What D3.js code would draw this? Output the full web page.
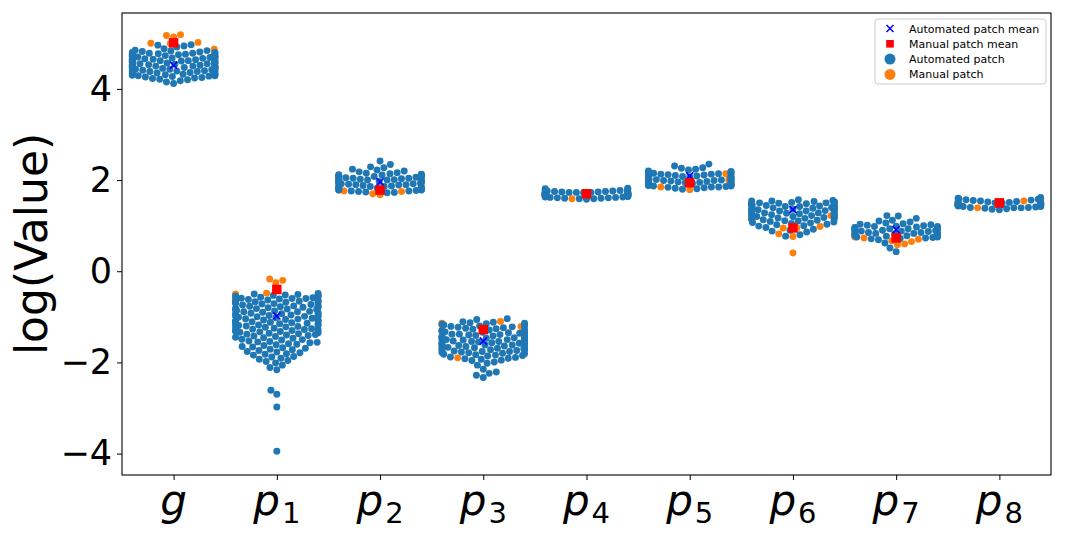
<!DOCTYPE html>
<html>
<head>
<meta charset="utf-8">
<script src="https://cdn.jsdelivr.net/npm/d3@7/dist/d3.min.js"></script>
<style>
  body { margin: 0; background: #fff; }
  text { font-family: "DejaVu Sans", sans-serif; }
</style>
</head>
<body>
<script>
// categories and their tick labels (letter + subscript)
var categories = ["g", "p1", "p2", "p3", "p4", "p5", "p6", "p7", "p8"];
var tickBase = ["g", "p", "p", "p", "p", "p", "p", "p", "p"];
var tickSub = ["", "1", "2", "3", "4", "5", "6", "7", "8"];
var yTicks = [-4, -2, 0, 2, 4];

// automated patch values
var gAuto = [4.12, 4.15, 4.18, 4.20,
  4.21, 4.23, 4.24, 4.25, 4.26, 4.27, 4.28, 4.29, 4.29,
  4.30, 4.31, 4.31, 4.32, 4.33, 4.33, 4.34, 4.35, 4.35, 4.36, 4.37, 4.37, 4.38, 4.38, 4.39, 4.39,
  4.40, 4.40, 4.41, 4.42, 4.42, 4.43, 4.43, 4.44, 4.44, 4.45, 4.46, 4.46, 4.47, 4.47, 4.48, 4.48, 4.49, 4.49,
  4.50, 4.50, 4.51, 4.52, 4.52, 4.53, 4.53, 4.54, 4.55, 4.55, 4.56, 4.56, 4.57, 4.58, 4.58, 4.59, 4.59, 4.60,
  4.60, 4.61, 4.62, 4.62, 4.63, 4.63, 4.64, 4.65, 4.65, 4.66, 4.66, 4.67, 4.68, 4.68, 4.69, 4.69, 4.70, 4.70,
  4.71, 4.72, 4.72, 4.73, 4.74, 4.74, 4.75, 4.76, 4.76, 4.77, 4.78, 4.78, 4.79, 4.79, 4.80, 4.80,
  4.81, 4.82, 4.83, 4.84, 4.85,
  4.88, 4.92, 4.94, 4.96, 4.97];
var p1Auto = [-3.95, -2.98, -2.70, -2.61,
  -2.16, -2.11, -2.06, -2.01, -1.98, -1.96,
  -1.93, -1.91, -1.88, -1.87, -1.84, -1.82, -1.81, -1.79, -1.77, -1.76,
  -1.74, -1.72, -1.71, -1.69, -1.68, -1.66, -1.65, -1.63, -1.61, -1.60, -1.59, -1.57, -1.56, -1.55,
  -1.54, -1.53, -1.51, -1.50, -1.49, -1.47, -1.46, -1.45, -1.43, -1.42, -1.41, -1.40, -1.39, -1.38, -1.37, -1.36,
  -1.35, -1.34, -1.33, -1.32, -1.31, -1.31, -1.30, -1.29, -1.28, -1.27,
  -1.26, -1.25, -1.24, -1.23, -1.22, -1.21, -1.20, -1.19, -1.19, -1.18,
  -1.17, -1.16, -1.15, -1.14, -1.13, -1.12, -1.11, -1.10, -1.09, -1.09,
  -1.08, -1.07, -1.06, -1.05, -1.04, -1.03, -1.02, -1.01, -1.00, -0.99,
  -0.99, -0.98, -0.97, -0.96, -0.95, -0.94, -0.93, -0.92, -0.91, -0.90,
  -0.89, -0.89, -0.88, -0.87, -0.86, -0.85, -0.84, -0.83, -0.82, -0.81,
  -0.80, -0.79, -0.79, -0.78, -0.77, -0.76, -0.75, -0.74, -0.73, -0.72,
  -0.71, -0.70, -0.69, -0.69, -0.68, -0.67, -0.66, -0.65, -0.64, -0.63,
  -0.62, -0.61, -0.60, -0.60, -0.59, -0.58, -0.57, -0.56,
  -0.55, -0.54, -0.53, -0.53, -0.52, -0.51, -0.50, -0.49];
var p2Auto = [1.72, 1.73, 1.74, 1.75, 1.76, 1.76, 1.77, 1.78, 1.78, 1.79,
  1.80, 1.80, 1.81, 1.82, 1.82, 1.83, 1.84, 1.84, 1.85, 1.86,
  1.86, 1.87, 1.88, 1.88, 1.89, 1.90, 1.90, 1.91, 1.92, 1.92,
  1.93, 1.94, 1.94, 1.95, 1.96, 1.96, 1.97, 1.98, 1.98, 1.99,
  2.00, 2.00, 2.01, 2.02, 2.02, 2.03, 2.04, 2.04, 2.05, 2.06,
  2.06, 2.07, 2.08, 2.08, 2.09, 2.10, 2.10, 2.11, 2.12, 2.12,
  2.13, 2.14, 2.15, 2.16, 2.18, 2.20, 2.22, 2.24, 2.27, 2.29,
  2.34, 2.42];
var p3Auto = [-2.33, -2.28, -2.24, -2.21, -2.15,
  -2.06, -2.02, -1.99,
  -1.96, -1.95, -1.93, -1.92, -1.91, -1.89, -1.88,
  -1.86, -1.85, -1.84, -1.83, -1.82, -1.81, -1.80, -1.79, -1.78,
  -1.77, -1.76, -1.76, -1.75, -1.74, -1.73, -1.73, -1.72, -1.71, -1.70,
  -1.70, -1.69, -1.68, -1.67, -1.66, -1.66, -1.65, -1.64, -1.63, -1.62,
  -1.62, -1.61, -1.60, -1.59, -1.58, -1.58, -1.57, -1.56, -1.55, -1.54,
  -1.54, -1.53, -1.52, -1.51, -1.50, -1.50, -1.49, -1.48, -1.47, -1.46,
  -1.46, -1.45, -1.44, -1.43, -1.42, -1.42, -1.41, -1.40, -1.39, -1.38,
  -1.38, -1.37, -1.36, -1.35, -1.34, -1.33, -1.32, -1.31, -1.30, -1.29,
  -1.28, -1.27, -1.26, -1.25, -1.24, -1.23, -1.22, -1.21, -1.20, -1.19,
  -1.18, -1.17, -1.16, -1.15, -1.14, -1.13,
  -1.12, -1.11, -1.06, -1.04];
var p4Auto = [1.58, 1.59, 1.59, 1.60, 1.60, 1.61, 1.61, 1.62, 1.62, 1.63,
  1.63, 1.64, 1.64, 1.65, 1.65, 1.65, 1.66, 1.66, 1.67, 1.67,
  1.67, 1.68, 1.68, 1.68, 1.69, 1.69, 1.69, 1.70, 1.70, 1.70,
  1.71, 1.71, 1.71, 1.72, 1.72, 1.72, 1.73, 1.73, 1.73, 1.74,
  1.74, 1.74, 1.75, 1.75, 1.76, 1.76, 1.77, 1.78, 1.79, 1.80,
  1.81, 1.82];
var p5Auto = [1.80, 1.81, 1.82, 1.83, 1.84, 1.85, 1.85, 1.86, 1.87, 1.87,
  1.88, 1.89, 1.89, 1.90, 1.91, 1.91, 1.92, 1.93, 1.93, 1.94,
  1.95, 1.95, 1.96, 1.97, 1.97, 1.98, 1.99, 1.99, 2.00, 2.01,
  2.01, 2.02, 2.03, 2.03, 2.04, 2.05, 2.05, 2.06, 2.07, 2.07,
  2.08, 2.09, 2.09, 2.10, 2.11, 2.11, 2.12, 2.13, 2.13, 2.14,
  2.15, 2.15, 2.16, 2.17, 2.18, 2.19, 2.20, 2.22, 2.24, 2.26,
  2.27, 2.31, 2.35];
var p6Auto = [0.77, 0.80, 0.86, 0.88, 0.90, 0.92, 0.96, 0.99, 1.00, 1.02,
  1.03, 1.05, 1.06, 1.07,
  1.08, 1.09, 1.10, 1.11, 1.12, 1.13, 1.14, 1.15,
  1.16, 1.17, 1.18, 1.19, 1.20, 1.20, 1.21, 1.22, 1.23, 1.24,
  1.24, 1.25, 1.26, 1.27, 1.28, 1.28, 1.29, 1.30, 1.31, 1.32,
  1.32, 1.33, 1.33, 1.34, 1.35, 1.35, 1.36, 1.36, 1.37, 1.38, 1.38, 1.39, 1.40,
  1.40, 1.41, 1.42, 1.42, 1.43, 1.44, 1.44, 1.45, 1.45, 1.46, 1.46, 1.47, 1.48,
  1.48, 1.49, 1.49, 1.50, 1.50, 1.51, 1.52, 1.52, 1.53, 1.54, 1.54, 1.55, 1.57];
var p7Auto = [0.43, 0.51, 0.62, 0.69, 0.71, 0.72,
  0.73, 0.74, 0.75, 0.75, 0.76, 0.77, 0.78, 0.78, 0.79, 0.80,
  0.80, 0.81, 0.82, 0.83, 0.83, 0.84, 0.85, 0.85, 0.86, 0.87,
  0.88, 0.88, 0.89, 0.90, 0.90, 0.91, 0.92, 0.93, 0.93, 0.94,
  0.95, 0.95, 0.96, 0.97, 0.98, 0.98, 0.99, 1.00, 1.01, 1.02,
  1.03, 1.04, 1.06, 1.08, 1.10, 1.12, 1.16, 1.21, 1.22];
var p8Auto = [1.35, 1.36, 1.37, 1.38, 1.39, 1.39, 1.40, 1.40, 1.41, 1.42,
  1.42, 1.43, 1.43, 1.44, 1.44, 1.45, 1.45, 1.46, 1.46, 1.47,
  1.47, 1.48, 1.48, 1.49, 1.49, 1.50, 1.50, 1.51, 1.51, 1.52,
  1.52, 1.53, 1.54, 1.55, 1.56, 1.57, 1.58, 1.59, 1.60, 1.62];

// manual patch values
var gManual = [4.87, 4.99, 5.00, 5.02, 5.14, 5.17, 5.19];
var p1Manual = [-0.17, -0.20, -0.25, -0.40, -0.48, -0.50, -0.62, -0.65];
var p2Manual = [1.68, 1.70, 1.75, 1.76, 1.78, 1.80, 1.82];
var p3Manual = [-1.10, -1.14, -1.18, -1.21, -1.31, -1.31, -1.90];
var p4Manual = [1.59, 1.70, 1.70, 1.71, 1.72, 1.73, 1.74];
var p5Manual = [1.79, 1.85, 1.88, 1.92, 1.95, 2.00, 2.14];
var p6Manual = [0.40, 0.76, 0.82, 0.95, 0.95, 0.98, 1.15, 1.22];
var p7Manual = [0.58, 0.60, 0.65, 0.67, 0.70, 0.73, 0.75];
var p8Manual = [1.39, 1.47, 1.49, 1.50, 1.52, 1.54, 1.59];

// means shown with the x and square markers
var autoMean = [4.52, -0.98, 1.96, -1.53, 1.69, 2.09, 1.35, 0.91, 1.48];
var manualMean = [5.01, -0.40, 1.78, -1.28, 1.70, 1.94, 0.95, 0.73, 1.50];

var autoValues = [gAuto, p1Auto, p2Auto, p3Auto, p4Auto, p5Auto, p6Auto, p7Auto, p8Auto];
var manualValues = [gManual, p1Manual, p2Manual, p3Manual, p4Manual, p5Manual, p6Manual, p7Manual, p8Manual];

var blue = "#1f77b4", orange = "#ff7f0e";
var W = 1065, H = 538;
var plotLeft = 122, plotRight = 1051, plotTop = 13, plotBottom = 475;

var svg = d3.select("body").append("svg")
  .attr("width", W)
  .attr("height", H);

var x = d3.scaleLinear().domain([-0.5, categories.length - 0.5]).range([plotLeft, plotRight]);
var y = d3.scaleLinear().domain([-4.47, 5.665]).range([plotBottom, plotTop]);

var r = 3.47;
var halfWidth = 0.4 * (x(1) - x(0));

// seaborn-like beeswarm: place by increasing value, nearest free spot to the midline
function swarm(points, cx) {
  points.sort(function(a, b) { return a.v - b.v; });
  var placed = [];
  var d = 2 * r;
  points.forEach(function(p) {
    var nb = placed.filter(function(q) { return Math.abs(q.y - p.y) < d; });
    var cands = [cx];
    nb.forEach(function(q) {
      var dy = p.y - q.y;
      var dx = Math.sqrt(Math.max(d * d - dy * dy, 0)) * 1.05;
      cands.push(q.x - dx, q.x + dx);
    });
    cands.sort(function(a, b) { return Math.abs(a - cx) - Math.abs(b - cx); });
    for (var i = 0; i < cands.length; i++) {
      var c = cands[i];
      var ok = nb.every(function(q) {
        return (q.x - c) * (q.x - c) + (q.y - p.y) * (q.y - p.y) >= d * d - 1e-6;
      });
      if (ok) { p.x = c; break; }
    }
    placed.push(p);
  });
  // points that spill over go to the edge
  points.forEach(function(p) {
    p.x = Math.max(cx - halfWidth, Math.min(cx + halfWidth, p.x));
  });
  return points;
}

var allPoints = [];
categories.forEach(function(c, i) {
  var pts = [];
  autoValues[i].forEach(function(v) { pts.push({v: v, y: y(v), kind: "auto"}); });
  manualValues[i].forEach(function(v) { pts.push({v: v, y: y(v), kind: "manual"}); });
  swarm(pts, x(i));
  allPoints = allPoints.concat(pts);
});

// manual drawn first, automated on top
var plot = svg.append("g");
plot.selectAll("circle.manual")
  .data(allPoints.filter(function(p) { return p.kind == "manual"; }))
  .enter()
    .append("circle")
      .attr("cx", function(p) { return p.x; })
      .attr("cy", function(p) { return p.y; })
      .attr("r", r)
      .attr("fill", orange);
plot.selectAll("circle.auto")
  .data(allPoints.filter(function(p) { return p.kind == "auto"; }))
  .enter()
    .append("circle")
      .attr("cx", function(p) { return p.x; })
      .attr("cy", function(p) { return p.y; })
      .attr("r", r)
      .attr("fill", blue);

// mean markers
var xm = 3.6;
plot.selectAll("path.amean")
  .data(autoMean)
  .enter()
    .append("path")
      .attr("d", function(m, i) {
        var cx = x(i), cy = y(m);
        return "M" + (cx - xm) + "," + (cy - xm) + "L" + (cx + xm) + "," + (cy + xm) +
          "M" + (cx - xm) + "," + (cy + xm) + "L" + (cx + xm) + "," + (cy - xm);
      })
      .attr("stroke", "#0000ff")
      .attr("stroke-width", 1.6)
      .attr("fill", "none");
var sq = 9.5;
plot.selectAll("rect.mmean")
  .data(manualMean)
  .enter()
    .append("rect")
      .attr("x", function(m, i) { return x(i) - sq / 2; })
      .attr("y", function(m) { return y(m) - sq / 2; })
      .attr("width", sq)
      .attr("height", sq)
      .attr("fill", "#ff0000");

// axes
var yAxis = svg.append("g")
  .attr("transform", "translate(" + plotLeft + ",0)")
  .call(d3.axisLeft(y).tickValues(yTicks).tickSize(5).tickPadding(5)
    .tickFormat(function(d) { return d < 0 ? "\u2212" + Math.abs(d) : String(d); }));
yAxis.select(".domain").remove();
yAxis.selectAll("text").attr("font-size", 35).attr("font-family", "DejaVu Sans").attr("fill", "#000");
yAxis.selectAll("line").attr("stroke", "#000").attr("stroke-width", 1);

var xAxis = svg.append("g")
  .attr("transform", "translate(0," + plotBottom + ")")
  .call(d3.axisBottom(x).tickValues(d3.range(categories.length)).tickSize(5).tickFormat(""));
xAxis.select(".domain").remove();
xAxis.selectAll("line").attr("stroke", "#000").attr("stroke-width", 1);

var xLabels = svg.append("g");
categories.forEach(function(c, i) {
  var t = xLabels.append("text")
    .attr("x", x(i))
    .attr("y", 515)
    .attr("text-anchor", "middle")
    .attr("font-size", 42)
    .attr("fill", "#000");
  t.append("tspan").attr("font-style", "italic").text(tickBase[i]);
  if (tickSub[i]) {
    t.append("tspan").attr("font-size", 29).attr("dy", 8).attr("dx", 2).text(tickSub[i]);
  }
});

svg.append("text")
  .attr("transform", "translate(31,244) rotate(-90)")
  .attr("text-anchor", "middle")
  .attr("dominant-baseline", "central")
  .attr("font-size", 44)
  .attr("fill", "#000")
  .text("log(Value)");

// frame
svg.append("rect")
  .attr("x", plotLeft)
  .attr("y", plotTop)
  .attr("width", plotRight - plotLeft)
  .attr("height", plotBottom - plotTop)
  .attr("fill", "none")
  .attr("stroke", "#000")
  .attr("stroke-width", 1.1);

// legend
var legendItems = ["Automated patch mean", "Manual patch mean", "Automated patch", "Manual patch"];
var lg = svg.append("g").attr("transform", "translate(875,19)");
lg.append("rect")
  .attr("width", 171)
  .attr("height", 65)
  .attr("rx", 3)
  .attr("fill", "#fff")
  .attr("fill-opacity", 0.8)
  .attr("stroke", "#cccccc");
legendItems.forEach(function(name, i) {
  var cy = 9.5 + i * 15.3;
  var mx = 15;
  if (i == 0) {
    lg.append("path")
      .attr("d", "M" + (mx - 3.5) + "," + (cy - 3.5) + "L" + (mx + 3.5) + "," + (cy + 3.5) +
        "M" + (mx - 3.5) + "," + (cy + 3.5) + "L" + (mx + 3.5) + "," + (cy - 3.5))
      .attr("stroke", "#0000ff").attr("stroke-width", 1.5);
  } else if (i == 1) {
    lg.append("rect").attr("x", mx - 3.8).attr("y", cy - 3.8).attr("width", 7.6).attr("height", 7.6).attr("fill", "#ff0000");
  } else {
    lg.append("circle").attr("cx", mx).attr("cy", cy).attr("r", 5.5).attr("fill", i == 2 ? blue : orange);
  }
  lg.append("text")
    .attr("x", 34)
    .attr("y", cy + 4)
    .attr("font-size", 11)
    .attr("fill", "#000")
    .text(name);
});
</script>
</body>
</html>
